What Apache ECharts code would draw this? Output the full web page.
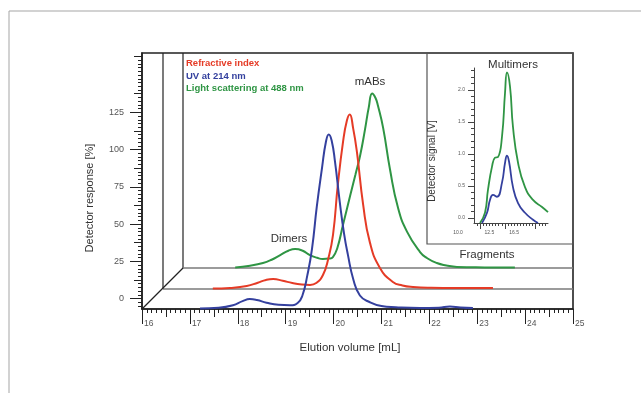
<!DOCTYPE html>
<html>
<head>
<meta charset="utf-8">
<script src="https://cdn.jsdelivr.net/npm/echarts@6/dist/echarts.min.js"></script>
<style>html,body{margin:0;padding:0;background:#fff;}#c{width:641px;height:393px;}</style>
</head>
<body>
<div id="c"></div>
<script>
// ---------- DATA ----------
const xRange = [16, 25];
const yLabelValues = [0, 25, 50, 75, 100, 125];
const seriesNames = ['Refractive index', 'UV at 214 nm', 'Light scattering at 488 nm'];

// UV at 214 nm (front trace) [mL, %]
const uvData = [[17.21,0.3],[17.6,0.8],[17.9,2.5],[18.1,5.2],[18.25,6.6],[18.4,6.0],[18.6,4.2],[18.85,2.8],[19.09,2.5],[19.25,4],[19.35,9],[19.45,22],[19.55,40],[19.65,68],[19.76,94],[19.84,111],[19.9,116],[19.96,112],[20.03,98],[20.13,71],[20.22,50],[20.3,36],[20.41,20],[20.55,9],[20.76,4.5],[21.0,2],[21.3,1.2],[21.8,0.7],[22.2,0.9],[22.43,1.7],[22.65,1.0],[22.91,0.6]];
// Refractive index (middle trace)
const riData = [[17.04,0.3],[17.4,0.7],[17.75,2],[17.98,4.2],[18.15,6],[18.3,6.6],[18.5,5.5],[18.7,4.0],[18.9,3.0],[19.07,2.7],[19.2,4],[19.34,9.3],[19.45,20],[19.55,36],[19.65,69],[19.76,98],[19.84,112],[19.9,116],[19.97,107],[20.05,91],[20.18,56],[20.32,31],[20.53,14],[20.8,4.7],[21.0,2.3],[21.22,1.3],[21.6,0.8],[22.0,0.7],[22.5,0.6],[22.89,0.6]];
// Light scattering at 488 nm (back trace)
const lsData = [[17.09,0.3],[17.4,1.5],[17.67,3.3],[17.85,5.5],[18.03,8.6],[18.2,11.5],[18.34,12.6],[18.5,11.5],[18.65,8.6],[18.8,6.8],[18.92,6.0],[19.05,6.3],[19.13,7.3],[19.22,13],[19.34,28.6],[19.49,48],[19.6,62],[19.7,75],[19.8,92],[19.88,107],[19.95,116],[20.02,113],[20.07,108],[20.18,93],[20.32,66],[20.49,40],[20.68,24],[20.95,10.6],[21.1,6.5],[21.3,3.3],[21.5,1.7],[21.72,0.7],[22.3,0.4],[22.93,0.3]];

// Inset (Multimers) [x, V]
const insetXRange = [10, 22];
const insetXLabels = [12.5, 16.5];
const insetYLabels = [0, 0.5, 1.0, 1.5, 2.0];
const insetLs = [[10.97,-0.08],[11.78,0.08],[12.27,0.44],[12.92,0.80],[13.41,0.94],[13.89,0.95],[14.54,1.27],[15.03,1.95],[15.35,2.27],[15.84,2.05],[16.32,1.42],[17.14,0.86],[18.27,0.48],[19.57,0.28],[21.03,0.17],[22.0,0.09]];
const insetUv = [[11.30,-0.08],[12.11,0.08],[12.59,0.28],[13.08,0.36],[13.73,0.33],[14.54,0.55],[15.03,0.86],[15.35,0.97],[15.68,0.88],[16.32,0.48],[17.14,0.23],[18.27,0.08],[19.57,-0.03],[20.38,-0.08]];

// ---------- LAYOUT ----------
const P = {left:142, top:53, width:431, bottom:309, pxPerUnit:1.504, yAxisMin:-7, yAxisPx:1.49};
const layers = [ {dx:0, dy:0}, {dx:21, dy:20}, {dx:41, dy:41} ];
const inset = {boxX:427, boxY:53, boxW:146, boxH:191, left:474, top:68, width:74, height:155, yMin:-0.08, yMax:2.34};
const colors = {red:'#e53b26', blue:'#34409e', green:'#2f9544', frame:'#222', base:'#7a7a7a', text:'#333', tick:'#555'};
const FONT = 'Liberation Sans, Arial, sans-serif';

function range(a, b, s){ const r=[]; for(let v=a; v<=b+1e-9; v+=s) r.push(Math.round(v*1000)/1000); return r; }

const H = P.bottom - P.top;
const grids = [
  {left:P.left, top:P.top, width:P.width, height:H, show:true, borderColor:colors.frame, borderWidth:1.6, containLabel:false},
];
layers.forEach(l => grids.push({left:P.left+l.dx, top:P.top, width:P.width, height:H-l.dy}));
grids.push({left:inset.left, top:inset.top, width:inset.width, height:inset.height});

const yAxMax = P.yAxisMin + H / P.yAxisPx;
const tickLine = {color:colors.frame, width:1};
function xa(o){ return Object.assign({type:'value', position:'bottom', splitLine:{show:false}}, o, {axisLine:Object.assign({onZero:false}, o.axisLine||{})}); }
function ya(o){ return Object.assign({type:'value', position:'left', splitLine:{show:false}}, o, {axisLine:Object.assign({onZero:false}, o.axisLine||{})}); }

const xAxes = [
  xa({gridIndex:0, min:xRange[0], max:xRange[1], interval:1,
   axisLine:{show:true, lineStyle:{color:colors.frame, width:1.5}},
   axisTick:{show:true, length:15, lineStyle:tickLine},
   axisLabel:{show:true, align:'left', padding:[0,0,0,2], margin:10, color:colors.tick, fontSize:8.5, fontFamily:FONT}}),
  xa({gridIndex:0, min:xRange[0], max:xRange[1], interval:0.5,
   axisLine:{show:false}, axisTick:{show:true, length:8, lineStyle:tickLine}, axisLabel:{show:false}}),
  xa({gridIndex:0, min:xRange[0], max:xRange[1], interval:0.1,
   axisLine:{show:false}, axisTick:{show:true, length:4, lineStyle:tickLine}, axisLabel:{show:false}}),
];
layers.forEach((l,i) => xAxes.push(xa({gridIndex:i+1, min:xRange[0], max:xRange[1], show:false})));
xAxes.push(
  xa({gridIndex:4, min:insetXRange[0], max:insetXRange[1],
   axisLine:{show:true, lineStyle:{color:'#444', width:1}},
   axisTick:{show:true, customValues:[11,15,20], length:6, lineStyle:{color:'#444'}},
   axisLabel:{show:true, customValues:insetXLabels, formatter:v=>v.toFixed(1), margin:7, color:colors.tick, fontSize:5, fontFamily:FONT}}),
  xa({gridIndex:4, min:insetXRange[0], max:insetXRange[1],
   axisLine:{show:false}, axisTick:{show:true, customValues:range(10.5,21.5,0.5), length:3, lineStyle:{color:'#444'}},
   axisLabel:{show:false}})
);
const xInsetIdx = xAxes.length - 2;

const yAxes = [
  ya({gridIndex:0, min:P.yAxisMin, max:yAxMax,
   axisLine:{show:true, lineStyle:{color:colors.frame, width:1.5}},
   axisTick:{show:true, customValues:yLabelValues, length:12, lineStyle:tickLine},
   axisLabel:{show:true, customValues:yLabelValues, margin:18, color:colors.tick, fontSize:9, fontFamily:FONT}}),
  ya({gridIndex:0, min:P.yAxisMin, max:yAxMax,
   axisLine:{show:false}, axisTick:{show:true, customValues:range(12.5,162.5,25), length:8, lineStyle:tickLine},
   axisLabel:{show:false}}),
  ya({gridIndex:0, min:P.yAxisMin, max:yAxMax,
   axisLine:{show:false}, axisTick:{show:true, customValues:range(-5,162.5,2.5), length:4, lineStyle:tickLine},
   axisLabel:{show:false}}),
];
layers.forEach((l,i) => yAxes.push(ya({gridIndex:i+1, min:0, max:(H-l.dy)/P.pxPerUnit, show:false})));
yAxes.push(
  ya({gridIndex:4, min:inset.yMin, max:inset.yMax,
   axisLine:{show:true, lineStyle:{color:'#444', width:1}},
   axisTick:{show:true, customValues:insetYLabels, length:6, lineStyle:{color:'#444'}},
   axisLabel:{show:true, customValues:insetYLabels, formatter:v=>v.toFixed(1), margin:9, color:colors.tick, fontSize:5, fontFamily:FONT}}),
  ya({gridIndex:4, min:inset.yMin, max:inset.yMax,
   axisLine:{show:false}, axisTick:{show:true, customValues:range(0,2.3,0.1), length:3, lineStyle:{color:'#444'}},
   axisLabel:{show:false}})
);
const yInsetIdx = yAxes.length - 2;

function line(data, color, xi, yi, w){
  return {type:'line', data, xAxisIndex:xi, yAxisIndex:yi, smooth:0.5, symbol:'none',
          lineStyle:{color, width:w||2}, silent:true, animation:false, z:5};
}
const series = [
  line(lsData, colors.green, 5, 5),
  line(riData, colors.red, 4, 4),
  line(uvData, colors.blue, 3, 3),
  line(insetLs, colors.green, xInsetIdx, yInsetIdx, 1.8),
  line(insetUv, colors.blue, xInsetIdx, yInsetIdx, 1.8),
];

// decorations: 3D box and labels
const g = [];
g.push({type:'polyline', shape:{points:[[9,393],[9,11],[641,11]]}, style:{stroke:'#a5a5a5', lineWidth:1, fill:null}, z:0});
layers.slice(1).forEach(l => {
  g.push({type:'line', shape:{x1:P.left+l.dx, y1:P.top, x2:P.left+l.dx, y2:P.bottom-l.dy}, style:{stroke:colors.frame, lineWidth:1.2}, z:0});
  g.push({type:'line', shape:{x1:P.left+l.dx, y1:P.bottom-l.dy, x2:P.left+P.width, y2:P.bottom-l.dy}, style:{stroke:colors.base, lineWidth:1.5}, z:0});
});
const last = layers[layers.length-1];
g.push({type:'line', shape:{x1:P.left, y1:P.bottom, x2:P.left+last.dx, y2:P.bottom-last.dy}, style:{stroke:colors.frame, lineWidth:1.2}, z:0});
g.push({type:'rect', shape:{x:inset.boxX, y:inset.boxY, width:inset.boxW, height:inset.boxH}, style:{stroke:'#555', lineWidth:1.2, fill:null}, z:0});

function txt(s, x, y, opt){
  return Object.assign({type:'text', x, y, z:100, style:Object.assign({text:s, fill:colors.text, font:'11px '+FONT, align:'center', verticalAlign:'middle'}, opt||{})});
}
g.push(txt(seriesNames[0], 186, 63, {fill:colors.red, font:'bold 9.5px '+FONT, align:'left'}));
g.push(txt(seriesNames[1], 186, 76, {fill:colors.blue, font:'bold 9.5px '+FONT, align:'left'}));
g.push(txt(seriesNames[2], 186, 88, {fill:colors.green, font:'bold 9.5px '+FONT, align:'left'}));
g.push(txt('mABs', 370, 82, {font:'11.5px '+FONT}));
g.push(txt('Dimers', 289, 239, {font:'11.5px '+FONT}));
g.push(txt('Fragments', 487, 255, {font:'11.5px '+FONT}));
g.push(txt('Multimers', 513, 65, {font:'11.5px '+FONT}));
g.push(txt('Elution volume [mL]', 350, 348, {font:'11.5px '+FONT}));
g.push(Object.assign(txt('Detector response [%]', 0, 0, {font:'11px '+FONT}), {x:90, y:198, rotation:Math.PI/2}));
g.push(Object.assign(txt('Detector signal [V]', 0, 0, {font:'10px '+FONT}), {x:432, y:161, rotation:Math.PI/2}));
g.push(txt('10.0', 458, 233, {font:'5px '+FONT, fill:colors.tick}));

const chart = echarts.init(document.getElementById('c'), null, {renderer:'canvas'});
chart.setOption({
  backgroundColor:'#ffffff',
  animation:false,
  grid:grids, xAxis:xAxes, yAxis:yAxes, series, graphic:g
});
</script>
</body>
</html>
